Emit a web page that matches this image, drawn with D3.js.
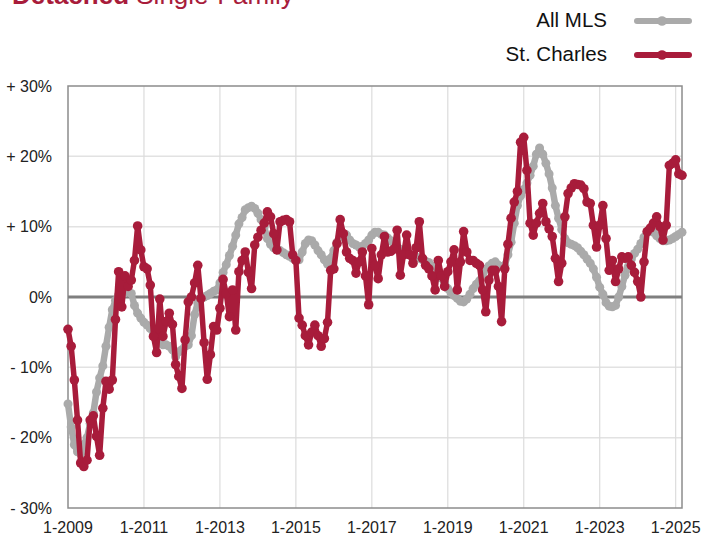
<!DOCTYPE html>
<html>
<head>
<meta charset="utf-8">
<script src="https://cdn.jsdelivr.net/npm/d3@7"></script>
<style>
  body { margin: 0; background: #fff; }
  svg { display: block; font-family: "Liberation Sans", Arial, sans-serif; }
</style>
</head>
<body>
<svg id="chart" width="701" height="535"></svg>
<script>
// monthly change, Jan 2009 .. Mar 2025
const xTickMonths = [0, 24, 48, 72, 96, 120, 144, 168, 192];
const xTickLabels = ["1-2009", "1-2011", "1-2013", "1-2015", "1-2017", "1-2019", "1-2021", "1-2023", "1-2025"];
const yTicks = [-30, -20, -10, 0, 10, 20, 30];
const seriesNames = ["All MLS", "St. Charles"];

const allMls = [
  -15.2, -18.5, -21.0, -22.0, -22.3, -21.0, -20.0, -18.0, -16.5, -13.5, -11.5, -9.8,
  -7.0, -4.3, -1.8, -0.5, 0.3, 0.5, 0.6, 0.8, 0.5, -1.2, -2.3, -3.0,
  -3.6, -4.0, -4.5, -5.1, -5.8, -6.3, -6.8, -6.8, -7.0, -7.5, -8.5, -7.8,
  -7.5, -7.0, -6.8, -5.5, -2.5, -0.8, -0.3, 0.0, 0.2, 0.5, 0.8, 1.0,
  2.0, 3.5, 4.6, 5.9, 7.2, 8.8, 10.4, 11.3, 12.4, 12.7, 12.9, 12.6,
  11.9, 11.0, 10.0, 8.3, 7.5, 7.0, 6.7, 6.6, 6.3, 6.0, 5.8, 5.5,
  5.2, 5.3, 6.4, 7.6, 8.1, 8.0, 7.4, 6.6, 6.0, 5.3, 4.7, 5.5,
  6.6, 7.8, 8.6, 9.0, 8.8, 8.1, 7.6, 7.4, 7.1, 7.2, 7.6, 8.1,
  8.8, 9.2, 9.2, 8.9, 8.8, 8.4, 8.0, 7.6, 7.1, 6.8, 6.4, 6.2,
  6.0, 5.9, 5.7, 5.5, 5.3, 5.1, 4.9, 4.4, 3.8, 3.3, 2.7, 2.0,
  1.2, 0.6, 0.2, -0.2, -0.6, -0.7, -0.3, 0.4, 1.2, 1.8, 2.3, 3.2,
  3.9, 4.4, 4.8, 5.0, 4.5, 4.3, 4.5, 6.0, 7.8, 10.5, 13.0, 14.4,
  15.3, 16.2, 17.3, 18.6, 20.3, 21.2, 20.3, 19.0, 17.5, 15.5, 13.0, 11.2,
  9.6, 8.3, 7.7, 7.5, 7.3, 7.0, 6.5, 6.0, 5.4, 4.8, 4.0, 2.8,
  1.4, 0.4, -0.8, -1.3, -1.4, -1.2, 0.0, 1.5, 3.1, 4.3, 5.4, 6.2,
  6.8, 7.6, 8.5, 9.2, 9.4, 9.2, 8.7, 8.3, 8.0, 8.0, 8.1, 8.3,
  8.6, 8.9, 9.2
];

const stCharles = [
  -4.6, -7.0, -11.8, -17.5, -23.6, -24.1, -23.2, -17.5, -16.9, -19.8, -22.5, -15.8,
  -12.0, -13.1, -11.8, -3.2, 3.6, -1.4, 3.0, 1.5, 2.4, 5.2, 10.1, 6.7,
  4.3, 4.0, 1.7, -5.6, -7.9, -0.3, -5.6, -3.5, -2.3, -3.9, -9.6, -11.3,
  -13.0, -6.1, -0.7, 0.0, 2.0, 4.5, -0.2, -6.5, -11.7, -8.2, -4.2, -4.7,
  -1.6, 2.5, 0.5, -2.8, 1.0, -4.7, 3.6, 5.2, 6.4, 3.5, 1.2, 7.4,
  8.5, 9.5, 10.5, 12.1, 11.4, 9.0, 6.7, 10.7, 10.9, 11.0, 10.7, 6.0,
  5.2, -3.0, -4.0, -5.5, -6.8, -5.0, -4.0, -5.5, -7.0, -5.9, -3.6, 3.8,
  4.0, 7.6, 11.0, 9.0, 6.4, 5.5, 5.2, 3.4, 5.0, 6.4, 3.0, -1.1,
  6.9, 4.5, 2.6, 6.0, 8.6, 6.4, 6.5, 6.8, 9.5, 3.1, 6.0, 8.8,
  6.0, 4.8, 7.0, 10.7, 5.5, 4.5, 4.0, 3.0, 1.0, 5.2, 3.0, 1.5,
  3.6, 5.0, 6.7, 1.0, 5.0, 9.3, 6.4, 5.2, 5.2, 4.8, 4.5, 1.0,
  -2.1, 2.4, 3.8, 3.8, 1.5, -3.5, 4.0, 7.5, 11.2, 13.5, 15.0, 22.0,
  22.7, 18.0, 10.5, 8.8, 10.5, 11.9, 13.3, 10.7, 9.7, 8.6, 5.5, 2.2,
  4.8, 11.4, 14.7, 15.5, 16.1, 16.0, 15.9, 15.4, 13.5, 13.3, 10.2, 7.1,
  10.2, 13.0, 8.3, 3.8, 5.2, 2.2, 4.0, 5.7, 5.5, 5.7, 4.5, 3.5,
  2.2, 0.0, 5.0, 9.3, 9.8, 10.5, 11.4, 10.0, 8.1, 10.2, 18.7, 19.0,
  19.5, 17.5, 17.3
];

const colors = ["#aaaaaa", "#a81c3b"];

const svg = d3.select("#chart");
const plot = { left: 68, right: 682, top: 86, bottom: 508 };

const x = d3.scaleLinear().domain([0, allMls.length - 1]).range([plot.left, plot.right]);
const y = d3.scaleLinear().domain([-30, 30]).range([plot.bottom, plot.top]);

// title (cut off by the top edge, as in the source)
const title = svg.append("text")
  .attr("x", 12).attr("y", 4)
  .attr("font-size", 26)
  .attr("fill", colors[1]);
title.append("tspan").attr("font-weight", "bold").text("Detached");
title.append("tspan").text(" Single-Family");

// grid
svg.append("g").selectAll("line")
  .data(yTicks.filter(d => d !== 0 && Math.abs(d) !== 30))
  .join("line")
  .attr("x1", plot.left).attr("x2", plot.right)
  .attr("y1", d => y(d)).attr("y2", d => y(d))
  .attr("stroke", "#e2e2e2").attr("stroke-width", 1.5);

svg.append("g").selectAll("line")
  .data(xTickMonths.slice(1))
  .join("line")
  .attr("x1", d => x(d)).attr("x2", d => x(d))
  .attr("y1", plot.top).attr("y2", plot.bottom)
  .attr("stroke", "#dcdcdc").attr("stroke-width", 1.2);

// frame
svg.append("rect")
  .attr("x", plot.left).attr("y", plot.top)
  .attr("width", plot.right - plot.left).attr("height", plot.bottom - plot.top)
  .attr("fill", "none").attr("stroke", "#8c8c8c").attr("stroke-width", 1.5);

// zero line
svg.append("line")
  .attr("x1", plot.left).attr("x2", plot.right)
  .attr("y1", y(0)).attr("y2", y(0))
  .attr("stroke", "#7f7f7f").attr("stroke-width", 3);

// y labels
const fmt = d => d > 0 ? "+ " + d + "%" : d < 0 ? "- " + Math.abs(d) + "%" : "0%";
svg.append("g").selectAll("text")
  .data(yTicks)
  .join("text")
  .attr("x", 52).attr("y", d => y(d))
  .attr("dy", "0.35em")
  .attr("text-anchor", "end")
  .attr("font-size", 16)
  .attr("fill", "#222")
  .text(fmt);

// x labels
svg.append("g").selectAll("text")
  .data(xTickMonths)
  .join("text")
  .attr("x", d => x(d)).attr("y", 533)
  .attr("text-anchor", "middle")
  .attr("font-size", 16)
  .attr("fill", "#222")
  .text((d, i) => xTickLabels[i]);

// series
const line = d3.line().x((d, i) => x(i)).y(d => y(d));
[allMls, stCharles].forEach((data, k) => {
  const g = svg.append("g");
  g.append("path")
    .datum(data)
    .attr("d", line)
    .attr("fill", "none")
    .attr("stroke", colors[k])
    .attr("stroke-width", k ? 5.5 : 6.5)
    .attr("stroke-linejoin", "round");
  g.selectAll("circle")
    .data(data)
    .join("circle")
    .attr("cx", (d, i) => x(i)).attr("cy", d => y(d))
    .attr("r", k ? 4.8 : 4.5)
    .attr("fill", colors[k]);
});

// legend
const legend = svg.append("g");
const legendY = [21, 55];
seriesNames.forEach((name, k) => {
  legend.append("text")
    .attr("x", 607).attr("y", legendY[k] + 6)
    .attr("text-anchor", "end")
    .attr("font-size", 20.5)
    .attr("fill", "#111")
    .text(name);
  legend.append("line")
    .attr("x1", 637).attr("x2", 689)
    .attr("y1", legendY[k]).attr("y2", legendY[k])
    .attr("stroke", colors[k]).attr("stroke-width", 6)
    .attr("stroke-linecap", "round");
  legend.append("circle")
    .attr("cx", 662).attr("cy", legendY[k]).attr("r", 4.8)
    .attr("fill", colors[k]);
});
</script>
</body>
</html>
